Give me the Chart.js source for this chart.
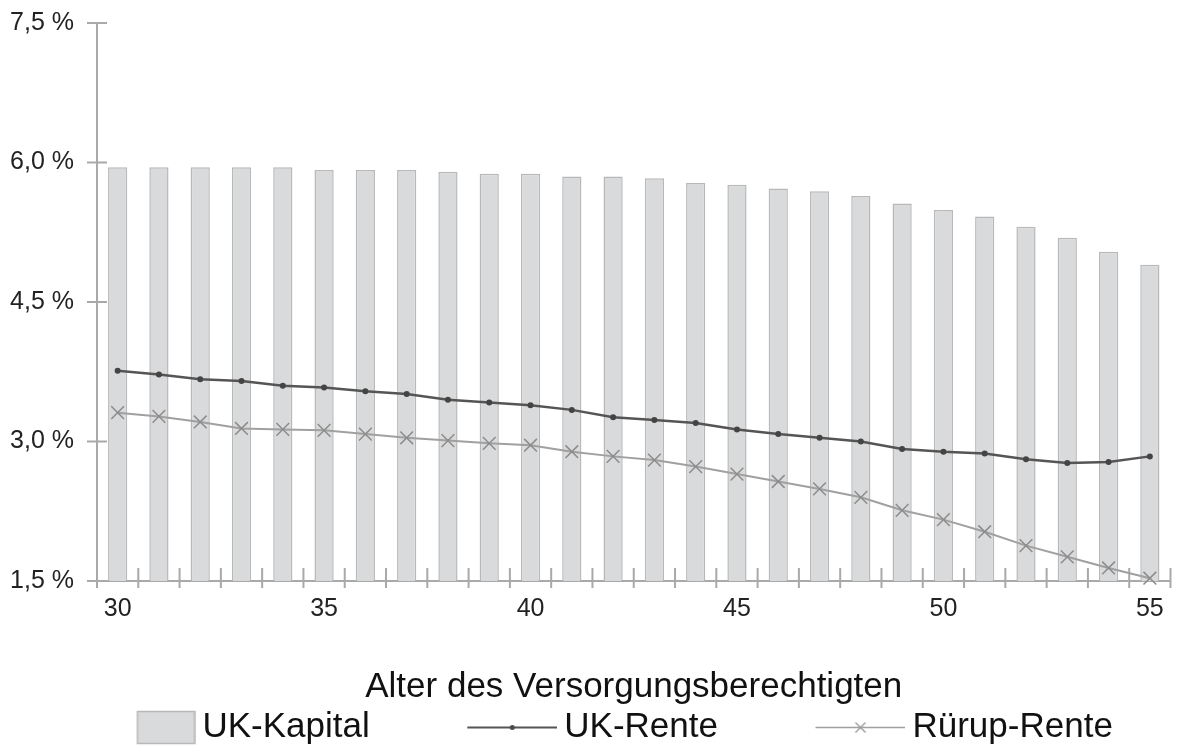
<!DOCTYPE html>
<html lang="de">
<head>
<meta charset="utf-8">
<title>UK-Kapital, UK-Rente, Rürup-Rente</title>
<script src="https://cdn.jsdelivr.net/npm/chart.js@4.4.1/dist/chart.umd.min.js"></script>
<style>
    html, body { margin: 0; padding: 0; background: #fff; }
    #chart { display: block; }
</style>
</head>
<body>
<canvas id="chart" width="1181" height="749"></canvas>
<script>
// --- Data ---
const ages = ['30', '31', '32', '33', '34', '35', '36', '37', '38', '39', '40', '41', '42',
              '43', '44', '45', '46', '47', '48', '49', '50', '51', '52', '53', '54', '55'];
const shownAgeLabels = ['30', '35', '40', '45', '50', '55'];

const ukKapital = [5.95, 5.95, 5.95, 5.95, 5.95, 5.92, 5.92, 5.92, 5.90, 5.88, 5.88, 5.85, 5.85,
                   5.83, 5.78, 5.76, 5.72, 5.69, 5.64, 5.56, 5.49, 5.42, 5.31, 5.19, 5.04, 4.90];
const ukRente = [3.76, 3.72, 3.67, 3.65, 3.60, 3.58, 3.54, 3.51, 3.45, 3.42, 3.39, 3.34, 3.26,
                 3.23, 3.20, 3.13, 3.08, 3.04, 3.00, 2.92, 2.89, 2.87, 2.81, 2.77, 2.78, 2.84];
const ruerupRente = [3.31, 3.27, 3.21, 3.14, 3.13, 3.12, 3.08, 3.04, 3.01, 2.98, 2.96, 2.89, 2.84,
                     2.80, 2.73, 2.65, 2.57, 2.49, 2.40, 2.26, 2.16, 2.03, 1.88, 1.76, 1.64, 1.53];

const yTicks = [1.5, 3.0, 4.5, 6.0, 7.5];
const seriesNames = ['UK-Kapital', 'UK-Rente', 'Rürup-Rente'];
const xTitle = 'Alter des Versorgungsberechtigten';

// --- Styles ---
const AXIS_COLOR = '#a9a9a9';
const BAR_FILL = '#d9dadc';
const BAR_BORDER = '#b8b8b8';
const RENTE_COLOR = '#555555';
const RUERUP_COLOR = '#a0a0a0';
const FONT = '"Liberation Sans", Arial, sans-serif';

const LEFT_PAD = 8;           // shifts the legend row; y axis width is reduced by the same
const LEGEND_FONT = 35;
const LEGEND_BOX = 167;       // pointStyleWidth, also spaces the items
const ICON_W = LEGEND_BOX + 2 * (LEGEND_FONT / 2 - 7);
const ICON_H = LEGEND_FONT;

// --- Legend icons (small canvases, content pushed to the right edge) ---
function makeIcon(draw) {
    const c = document.createElement('canvas');
    c.width = ICON_W;
    c.height = ICON_H;
    draw(c.getContext('2d'));
    return c;
}

const legendIcons = [
    makeIcon(ctx => {
        ctx.fillStyle = BAR_FILL;
        ctx.strokeStyle = BAR_BORDER;
        ctx.lineWidth = 1.5;
        ctx.fillRect(ICON_W - 58, ICON_H / 2 - 16, 57, 32);
        ctx.strokeRect(ICON_W - 58, ICON_H / 2 - 16, 57, 32);
    }),
    makeIcon(ctx => {
        ctx.strokeStyle = RENTE_COLOR;
        ctx.lineWidth = 2;
        ctx.beginPath();
        ctx.moveTo(ICON_W - 90, ICON_H / 2);
        ctx.lineTo(ICON_W, ICON_H / 2);
        ctx.stroke();
        ctx.fillStyle = '#4a4a4a';
        ctx.beginPath();
        ctx.arc(ICON_W - 45, ICON_H / 2, 2.5, 0, Math.PI * 2);
        ctx.fill();
    }),
    makeIcon(ctx => {
        ctx.strokeStyle = RUERUP_COLOR;
        ctx.lineWidth = 1.5;
        ctx.beginPath();
        ctx.moveTo(ICON_W - 90, ICON_H / 2);
        ctx.lineTo(ICON_W, ICON_H / 2);
        const cx = ICON_W - 45, cy = ICON_H / 2;
        ctx.moveTo(cx - 5, cy - 5); ctx.lineTo(cx + 5, cy + 5);
        ctx.moveTo(cx - 5, cy + 5); ctx.lineTo(cx + 5, cy - 5);
        ctx.stroke();
    })
];

// axis ticks crossing the axis lines, placed from the scales
const axisTicks = {
    id: 'axisTicks',
    beforeDatasetsDraw(chart) {
        const { ctx, scales: { x, y } } = chart;
        ctx.save();
        ctx.strokeStyle = AXIS_COLOR;
        ctx.lineWidth = 2;
        ctx.beginPath();
        y.ticks.forEach((t, i) => {
            const py = y.getPixelForTick(i);
            ctx.moveTo(y.right - 10, py);
            ctx.lineTo(y.right + 10, py);
        });
        for (let i = 0; i <= ages.length; i++) {
            const px = x.getPixelForValue(i - 0.5);
            ctx.moveTo(px, x.top - 13);
            ctx.lineTo(px, x.top + 7);
        }
        ctx.stroke();
        ctx.restore();
    }
};

const chart = new Chart(document.getElementById('chart'), {
    type: 'bar',
    data: {
        labels: ages,
        datasets: [
            {
                label: seriesNames[0],
                data: ukKapital,
                backgroundColor: BAR_FILL,
                borderColor: BAR_BORDER,
                borderWidth: 1.5,
                barPercentage: 0.465,
                categoryPercentage: 1,
                order: 3
            },
            {
                type: 'line',
                label: seriesNames[1],
                data: ukRente,
                borderColor: RENTE_COLOR,
                borderWidth: 2.5,
                pointStyle: 'circle',
                pointRadius: 3,
                pointBorderWidth: 0,
                pointBackgroundColor: '#444',
                tension: 0,
                fill: false,
                clip: false,
                order: 1
            },
            {
                type: 'line',
                label: seriesNames[2],
                data: ruerupRente,
                borderColor: RUERUP_COLOR,
                borderWidth: 2,
                pointStyle: 'crossRot',
                pointRadius: 9,
                pointBorderWidth: 1.5,
                pointBorderColor: '#8c8c8c',
                tension: 0,
                fill: false,
                clip: false,
                order: 2
            }
        ]
    },
    options: {
        responsive: false,
        animation: false,
        layout: { padding: { top: 23, right: 4, bottom: 0, left: LEFT_PAD } },
        scales: {
            x: {
                offset: true,
                grid: { display: true, drawOnChartArea: false, color: 'transparent', tickLength: 13 },
                border: { display: true, color: AXIS_COLOR, width: 2 },
                ticks: {
                    autoSkip: false,
                    maxRotation: 0,
                    padding: 0,
                    color: '#222',
                    font: { family: FONT, size: 25 },
                    callback: function (value) {
                        const lbl = this.getLabelForValue(value);
                        return shownAgeLabels.includes(lbl) ? lbl : '';
                    }
                },
                title: {
                    display: true,
                    text: xTitle,
                    color: '#111',
                    font: { family: FONT, size: 35, lineHeight: 0.7 },
                    padding: { top: 0, bottom: 0 }
                },
                afterFit: scale => { scale.height = 119; }
            },
            y: {
                min: 1.5,
                max: 7.5,
                grid: { display: true, drawOnChartArea: false, color: 'transparent', tickLength: 23 },
                border: { display: true, color: AXIS_COLOR, width: 2 },
                afterBuildTicks: scale => { scale.ticks = yTicks.map(v => ({ value: v })); },
                ticks: {
                    padding: 0,
                    color: '#222',
                    font: { family: FONT, size: 25 },
                    callback: v => v.toFixed(1).replace('.', ',') + ' %'
                },
                afterFit: scale => { scale.width = 97 - LEFT_PAD; }
            }
        },
        plugins: {
            tooltip: { enabled: false },
            legend: {
                position: 'bottom',
                align: 'start',
                maxHeight: 49,
                labels: {
                    usePointStyle: true,
                    pointStyleWidth: LEGEND_BOX,
                    padding: 10,
                    color: '#111',
                    font: { family: FONT, size: LEGEND_FONT },
                    generateLabels: chart => {
                        const items = Chart.defaults.plugins.legend.labels.generateLabels(chart);
                        items.sort((a, b) => a.datasetIndex - b.datasetIndex);
                        return items.map(item => ({ ...item, pointStyle: legendIcons[item.datasetIndex] }));
                    }
                }
            }
        }
    },
    plugins: [axisTicks]
});
</script>
</body>
</html>
